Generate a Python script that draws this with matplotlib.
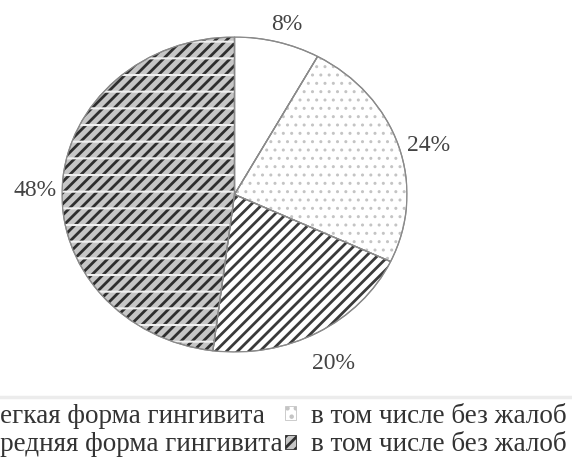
import matplotlib
matplotlib.use('Agg')
import matplotlib.pyplot as plt
import matplotlib.patches as mpatches
import matplotlib.transforms as mtransforms
from matplotlib.lines import Line2D

# Data
shares = [8, 24, 20, 48]
labels = ['Легкая форма гингивита', 'в том числе без жалоб',
          'Средняя форма гингивита', 'в том числе без жалоб']
faces = ['white', 'white', 'white', '#c6c6c6']
hatches = [None, '..', '///', '///']
hatch_cols = ['white', '#c4c4c4', '#3a3a3a', '#2e2e2e']
hatch_lws = [1.0, 1.0, 2.0, 2.0]

plt.rcParams['font.family'] = ['Liberation Serif', 'DejaVu Serif']
plt.rcParams['hatch.linewidth'] = 2.0

fig = plt.figure(figsize=(5.72, 4.57), dpi=100)
ax = fig.add_axes([62 / 572, 1 - 352 / 457, 345 / 572, 315 / 457])

wedges, texts, autotexts = ax.pie(
    shares, startangle=90, counterclock=False, colors=faces,
    autopct='%d%%', pctdistance=1.17,
    wedgeprops=dict(edgecolor='#8a8a8a', linewidth=0.9),
    textprops=dict(fontsize=17, color='#444444'))
ax.set_aspect('auto')
ax.set_xlim(-1, 1)
ax.set_ylim(-1, 1)

# labels sit a little lower in the original
for t in autotexts:
    t.set_transform(mtransforms.offset_copy(t.get_transform(), fig=fig, x=2, y=-8, units='dots'))

# hatch overlays
for w, h, hc, hl in zip(wedges, hatches, hatch_cols, hatch_lws):
    if h is None:
        continue
    with plt.rc_context({'hatch.linewidth': hl}):
        ov = mpatches.Wedge(w.center, w.r, w.theta1, w.theta2, fill=False,
                            hatch=h, edgecolor=hc, linewidth=0)
    ax.add_patch(ov)
# white horizontal lines in the big slice
big = wedges[3]
with plt.rc_context({'hatch.linewidth': 1.5}):
    ax.add_patch(mpatches.Wedge(big.center, big.r, big.theta1, big.theta2,
                                fill=False, hatch='-', edgecolor='#f0f0f0', linewidth=0))
for w in wedges:
    ax.add_patch(mpatches.Wedge(w.center, w.r, w.theta1, w.theta2, fill=False,
                                edgecolor='#8a8a8a', linewidth=0.9))

# separator above legend
fig.add_artist(Line2D([0, 1], [1 - 397 / 457] * 2, color='#ececec', lw=2.5))

# legend (left column is cut off by the figure edge, as in the original)
handles = []
for f, h, hc in zip(faces, hatches, hatch_cols):
    handles.append(mpatches.Patch(facecolor=f, hatch=h, edgecolor=hc if h else '#888888',
                                  linewidth=0.6))
order = [0, 2, 1, 3]
leg = fig.legend([handles[i] for i in order], [labels[i] for i in order],
                 ncol=2, loc='upper right', bbox_to_anchor=(567 / 572, 1 - 404 / 457),
                 frameon=False, fontsize=19.5, handlelength=0.42, handleheight=0.42,
                 handletextpad=0.55, columnspacing=0.1, labelspacing=0.12, borderpad=0,
                 borderaxespad=0)
for t in leg.get_texts():
    t.set_color('#333333')

fig.savefig('out.png', dpi=100)
